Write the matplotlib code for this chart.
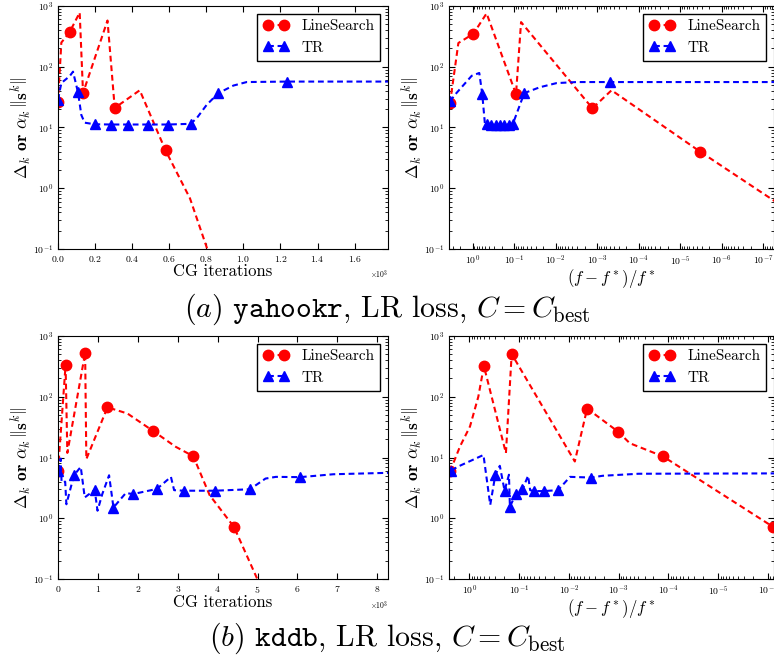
import numpy as np
import matplotlib
matplotlib.use("Agg")
import matplotlib.pyplot as plt
from matplotlib.ticker import MultipleLocator, LogLocator, NullFormatter

plt.rcParams.update({
    "font.family": "serif",
    "font.serif": ["cmr10"],
    "mathtext.fontset": "cm",
    "axes.formatter.use_mathtext": True,
})

RED, BLUE = "#ff0000", "#0000ff"

# (a) yahookr, x = CG iterations
ls_a_cg = [0, 18, 63, 117, 135, 267, 306, 441, 580, 712, 830]
ls_a_cg_y = [26, 250, 373, 780, 37, 577, 21, 41, 4.2, 0.68, 0.06]
ls_a_cg_mk = [0, 2, 4, 6, 8]
tr_a_cg = [0, 18, 63, 81, 108, 126, 144, 198, 288, 378, 483, 595, 715, 748, 802, 865,
           946, 1018, 1234, 1780]
tr_a_cg_y = [28.6, 54, 70, 83, 37.8, 16, 12, 11.3, 11.2, 11.2, 11.2, 11.2, 11.5, 14.2,
             23.6, 36.8, 49, 56, 57, 57]
tr_a_cg_mk = [0, 4, 7, 8, 9, 10, 11, 12, 15, 18]

# (a) yahookr, x = (f - f*)/f*
ls_a_f = [3.5, 2.2, 0.96, 0.46, 0.09, 0.068, 1.3e-3, 4.5e-4, 3.3e-6, 4e-8]
ls_a_f_y = [25, 246, 348, 756, 35.4, 543, 20.7, 41, 4.0, 0.54]
ls_a_f_mk = [0, 2, 4, 6, 8]
tr_a_f = [3.5, 2.67, 1.05, 0.69, 0.585, 0.505, 0.45, 0.354, 0.279, 0.219, 0.173, 0.136,
          0.107, 0.057, 0.024, 9.5e-3, 3.1e-3, 4.9e-4, 1e-8]
tr_a_f_y = [26.8, 34.5, 71, 79, 35.4, 11.5, 11.3, 11.2, 11.2, 11.2, 11.2, 11.2, 11.5,
            36.8, 46, 53.8, 56, 56, 56]
tr_a_f_mk = [0, 4, 6, 7, 8, 9, 10, 11, 12, 13, 17]

# (b) kddb, x = CG iterations
ls_b_cg = [0, 190, 234, 680, 710, 1240, 1740, 2385, 2950, 3390, 3800, 4410, 5100]
ls_b_cg_y = [6.0, 331, 11.9, 528, 9.4, 67, 53, 27.3, 15, 10.5, 2.4, 0.72, 0.07]
ls_b_cg_mk = [0, 1, 3, 5, 7, 9, 11]
tr_b_cg = [0, 67, 90, 180, 210, 400, 570, 670, 920, 990, 1110, 1280, 1390, 1570, 1700,
           1880, 2480, 2830, 2910, 3150, 3930, 4810, 5200, 5460, 6070, 6900, 8300]
tr_b_cg_y = [6.1, 9.6, 3.9, 4.0, 1.7, 5.1, 7.0, 2.2, 2.93, 1.33, 2.5, 5.1, 1.5, 2.07, 2.6,
             2.5, 3.04, 4.8, 2.9, 2.84, 2.84, 3.0, 4.5, 4.8, 4.75, 5.3, 5.6]
tr_b_cg_mk = [0, 5, 8, 12, 15, 16, 19, 20, 21, 24]

# (b) kddb, x = (f - f*)/f*
ls_b_f = [2.44, 1.54, 0.97, 0.66, 0.51, 0.184, 0.141, 7.6e-3, 4.3e-3, 1.02e-3, 6e-4,
          1.28e-4, 8.1e-7]
ls_b_f_y = [5.9, 15.2, 32.4, 100, 320, 11.8, 505, 8.6, 64, 26.5, 17.2, 10.4, 0.73]
ls_b_f_mk = [0, 4, 6, 8, 9, 11, 12]
tr_b_f = [2.3, 1.68, 0.52, 0.38, 0.3, 0.244, 0.196, 0.16, 0.153, 0.117, 0.0855, 0.066,
          0.06, 0.051, 0.0319, 0.0165, 9.5e-3, 3.6e-3, 2.1e-3, 4e-4, 1e-7]
tr_b_f_y = [6.1, 7.1, 11, 1.66, 5.2, 7.3, 2.85, 5.2, 1.55, 2.48, 3.0, 5.0, 2.9, 2.8, 2.8,
            2.9, 4.8, 4.68, 5.0, 5.4, 5.5]
tr_b_f_mk = [0, 4, 6, 8, 9, 10, 13, 14, 15, 17]

YLABEL = r"$\Delta_k$ $\mathbf{or}$ $\alpha_k\,\left\|\mathbf{s}^k\right\|$"
FLABEL = r"$(f - f^*)/f^*$"


def panel(ax, ls, tr, logx):
    for (x, y, mk), c, m, ms, lab in [(ls, RED, "o", 7.5, "LineSearch"),
                                      (tr, BLUE, "^", 7, "TR")]:
        ax.plot(x, y, "--", dashes=(2.8, 1.8), c=c, lw=1.5, marker=m, ms=ms, mec=c,
                markevery=mk, label=lab)
    ax.set_yscale("log")
    ax.set_ylim(0.1, 1000)
    if logx:
        ax.set_xscale("log")
        ax.xaxis.set_major_locator(LogLocator(base=10, numticks=30))
        ax.xaxis.set_minor_locator(LogLocator(base=10, subs=np.arange(2, 10), numticks=300))
        ax.xaxis.set_minor_formatter(NullFormatter())
        ax.set_xlabel(FLABEL, fontsize=12, labelpad=0)
    else:
        ax.ticklabel_format(axis="x", style="sci", scilimits=(0, 0))
        ax.xaxis.get_offset_text().set_fontsize(5.5)
        ax.set_xlabel("CG iterations", fontsize=12, labelpad=0)
    ax.set_ylabel(YLABEL, fontsize=12.5, labelpad=0)
    ax.tick_params(which="both", direction="in", top=True, right=True, labelsize=7)
    ax.tick_params(which="major", length=4)
    ax.tick_params(which="minor", length=2)
    leg = ax.legend(loc="upper right", numpoints=2, fontsize=11, fancybox=False,
                    edgecolor="black", framealpha=1, handlelength=1.7,
                    borderaxespad=0.5)
    leg.get_frame().set_linewidth(1.0)


W, H = 774, 660
fig = plt.figure(figsize=(W / 100, H / 100), dpi=100)

ax1 = fig.add_axes([58 / W, 1 - 249 / H, 330 / W, 243 / H])
panel(ax1, (ls_a_cg, ls_a_cg_y, ls_a_cg_mk), (tr_a_cg, tr_a_cg_y, tr_a_cg_mk), False)
ax1.set_xlim(0, 1780)
ax1.xaxis.set_major_locator(MultipleLocator(200))

ax2 = fig.add_axes([449 / W, 1 - 249 / H, 325 / W, 243 / H])
panel(ax2, (ls_a_f, ls_a_f_y, ls_a_f_mk), (tr_a_f, tr_a_f_y, tr_a_f_mk), True)
ax2.set_xlim(3.7, 5.5e-8)

ax3 = fig.add_axes([58 / W, 1 - 579 / H, 330 / W, 243 / H])
panel(ax3, (ls_b_cg, ls_b_cg_y, ls_b_cg_mk), (tr_b_cg, tr_b_cg_y, tr_b_cg_mk), False)
ax3.set_xlim(0, 8270)
ax3.xaxis.set_major_locator(MultipleLocator(1000))

ax4 = fig.add_axes([449 / W, 1 - 579 / H, 325 / W, 243 / H])
panel(ax4, (ls_b_f, ls_b_f_y, ls_b_f_mk), (tr_b_f, tr_b_f_y, tr_b_f_mk), True)
ax4.set_xlim(2.56, 10 ** -6.12)

fig.text(0.5, 1 - 309 / H, r"$(a)$ $\mathtt{yahookr}$, LR loss, $C = C_{\mathrm{best}}$",
         ha="center", va="center", fontsize=21.5)
fig.text(0.5, 1 - 638 / H, r"$(b)$ $\mathtt{kddb}$, LR loss, $C = C_{\mathrm{best}}$",
         ha="center", va="center", fontsize=21.5)

fig.savefig("out.png", dpi=100)
